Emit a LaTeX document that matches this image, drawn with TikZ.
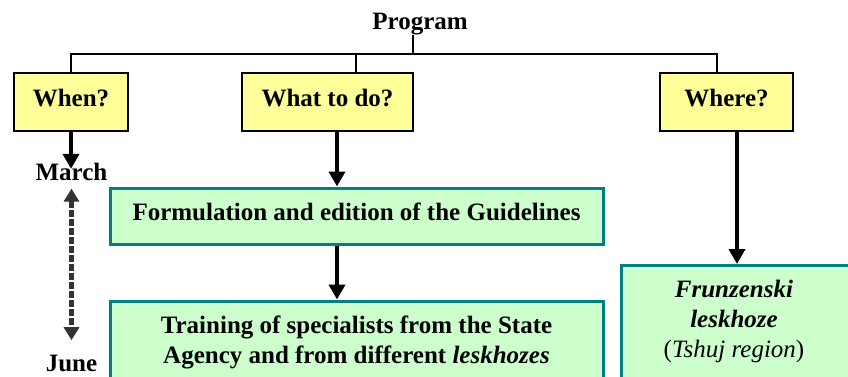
\documentclass[tikz,border=0pt]{standalone}
\usepackage{fontspec}
\setmainfont{Liberation Serif}
\usetikzlibrary{positioning,arrows.meta}
\definecolor{qyellow}{HTML}{FFFF99}
\definecolor{taskgreen}{HTML}{CCFFCC}
\definecolor{taskedge}{HTML}{008080}
\tikzset{
	>={Triangle[width=8pt,length=7.5pt]}
}

\begin{document}
\begin{tikzpicture}[
x = 0.5pt, y = -0.5pt,
node distance = 4pt,
every node/.style = {
	font = \bfseries\fontsize{12.5}{15}\selectfont,
	inner sep = 0pt
},
question/.style = {
	draw,
	line width = 1.3pt,
	fill = qyellow,
	minimum height = 29pt,
	text height = 8pt,
	text depth = 4pt
},
task/.style = {
	draw = taskedge,
	line width = 1.5pt,
	fill = taskgreen,
	minimum width = 246.5pt
},
tree/.style = {
	line width = 1.3pt
},
flow/.style = {
	->,
	line width = 2pt
},
period/.style = {
	<->,
	draw = black!80,
	line width = 2.4pt,
	dash pattern = on 3.5pt off 1pt,
	>={Triangle[width=7.5pt,length=6.5pt]}
}
]
\useasboundingbox (0,0) rectangle (848,376);
\clip (0,0) rectangle (848,376);

\node (prog) [anchor=base] at (420,29) {Program};

\node (when) [question, minimum width=57pt] at (71,102) {When?};
\node (what) [question, minimum width=85.5pt] at (327.5,102) {What to do?};
\node (where) [question, minimum width=66.5pt] at (726.5,102) {Where?};

\node (march) [anchor=base] at (71.5,180) {March};
\node (june) [anchor=base] at (71.5,371) {June};

\node (guide) [task, minimum height=28pt, text height=8pt, text depth=3.5pt] at (356.5,216) {Formulation and edition of the Guidelines};
\node (train) [task, minimum height=41pt, align=center] at (356.5,342) {Training of specialists from the State\\ Agency and from different \textit{leskhozes}};

\node (site) [task, anchor=north, minimum width=116pt, minimum height=70pt] at (737,264) {};
\node (site_t) [below = 8pt of site.north, xshift=-1.5pt, align=center] {\textit{Frunzenski}\\ \textit{leskhoze}\\ \mdseries(\textit{Tshuj region})};

% tree from the program
\coordinate (bus) at (413,54);
\draw [tree] ([xshift=-3.5pt]prog.south) -- (bus);
\draw [tree] (when.north) |- (bus) -| ([xshift=-4.75pt]where.north);
\draw [tree] ([xshift=14.25pt]what.north) -- ([xshift=14.25pt]what.north |- bus);

% arrows
\draw [flow, shorten >=-3.3pt] (when.south) -- (when.south |- march.north);
\draw [flow] ([xshift=4.75pt]what.south) -- ([xshift=4.75pt]what.south |- guide.north);
\draw [flow] ([xshift=-9.75pt]guide.south) -- ([xshift=-9.75pt]guide.south |- train.north);
\draw [flow] (where.south -| site.north) -- (site.north);

\draw [period, shorten <=4pt, shorten >=7pt] (march.south) -- (june.north);

\end{tikzpicture}
\end{document}
